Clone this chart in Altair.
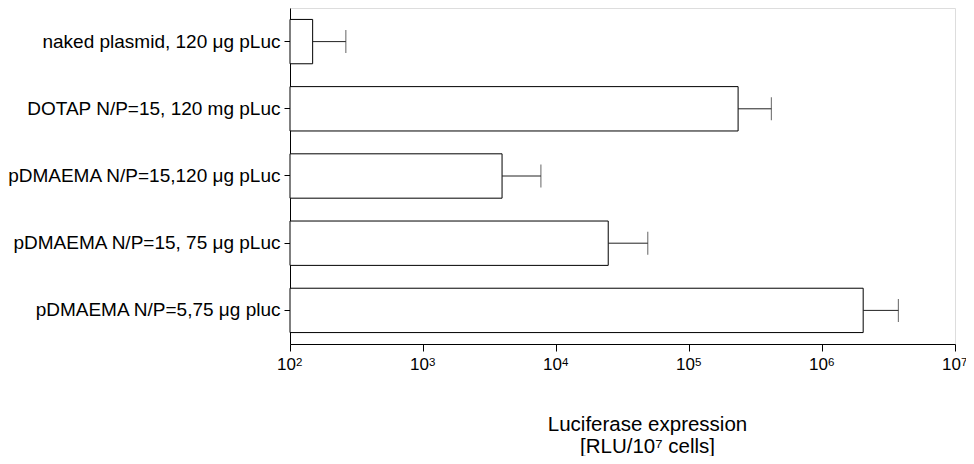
import altair as alt
import pandas as pd

categories = [
    "naked plasmid, 120 μg pLuc",
    "DOTAP N/P=15, 120 mg pLuc",
    "pDMAEMA N/P=15,120 μg pLuc",
    "pDMAEMA N/P=15, 75 μg pLuc",
    "pDMAEMA N/P=5,75 μg pluc",
]
values = [148, 2.34e5, 3.93e3, 2.47e4, 2.04e6]
err_upper = [263, 4.16e5, 7.7e3, 4.9e4, 3.75e6]
tick_values = [1e2, 1e3, 1e4, 1e5, 1e6, 1e7]
tick_exponents = ["2", "3", "4", "5", "6", "7"]

df = pd.DataFrame({"cat": categories, "value": values, "err": err_upper})
ticks_df = pd.DataFrame({"v": tick_values, "e": tick_exponents})

FONT = "Liberation Sans"
H = 336
W = 665

xscale = alt.Scale(type="log", domain=[1e2, 1e7], nice=False)
yscale = alt.Scale(paddingInner=0.34, paddingOuter=0.17)

xaxis = alt.Axis(
    values=tick_values,
    labelExpr="'10'",
    labelFontSize=17,
    labelFont=FONT,
    labelColor="black",
    labelFlush=False,
    labelOverlap=False,
    labelBound=False,
    labelPadding=5,
    labelOffset=-4,
    tickSize=7,
    tickColor="black",
    domainColor="black",
    grid=False,
    title=["Luciferase expression", "[RLU/10⁷ cells]"],
    titleFont=FONT,
    titleFontSize=20.5,
    titleFontWeight="normal",
    titleColor="black",
    titleX=357,
    titleY=86,
    titleBaseline="alphabetic",
    titleLineHeight=22,
)

yaxis = alt.Axis(
    title=None,
    labelFontSize=19,
    labelFont=FONT,
    labelColor="black",
    labelPadding=4,
    tickSize=6,
    tickColor="black",
    domainColor="black",
    grid=False,
    labelLimit=400,
)

base = alt.Chart(df)

bars = base.mark_bar(fill="white", stroke="black", strokeWidth=1).encode(
    x=alt.X("value:Q", scale=xscale, axis=xaxis),
    x2=alt.X2(datum=1e2),
    y=alt.Y("cat:N", sort=categories, scale=yscale, axis=yaxis),
)

rules = base.mark_rule(color="#222", strokeWidth=1).encode(
    x=alt.X("value:Q", scale=xscale),
    x2="err:Q",
    y=alt.Y("cat:N", sort=categories),
)

caps = base.mark_tick(color="#222", thickness=1, size=23).encode(
    x=alt.X("err:Q", scale=xscale),
    y=alt.Y("cat:N", sort=categories),
)

exps = (
    alt.Chart(ticks_df)
    .mark_text(font=FONT, fontSize=11.5, align="left", baseline="alphabetic", dx=6, color="black")
    .encode(
        x=alt.X("v:Q", scale=xscale),
        y=alt.value(H + 22),
        text="e:N",
    )
)

chart = (
    alt.layer(bars, rules, caps, exps)
    .properties(
        width=W,
        height=H,
        autosize=alt.AutoSizeParams(type="none"),
        padding={"left": 282, "top": 0, "right": 11, "bottom": 112},
    )
    .configure_view(stroke="black", strokeWidth=1)
    .configure(background="white")
)

chart.save("out.html", embed_options={"renderer": "svg", "actions": False})
